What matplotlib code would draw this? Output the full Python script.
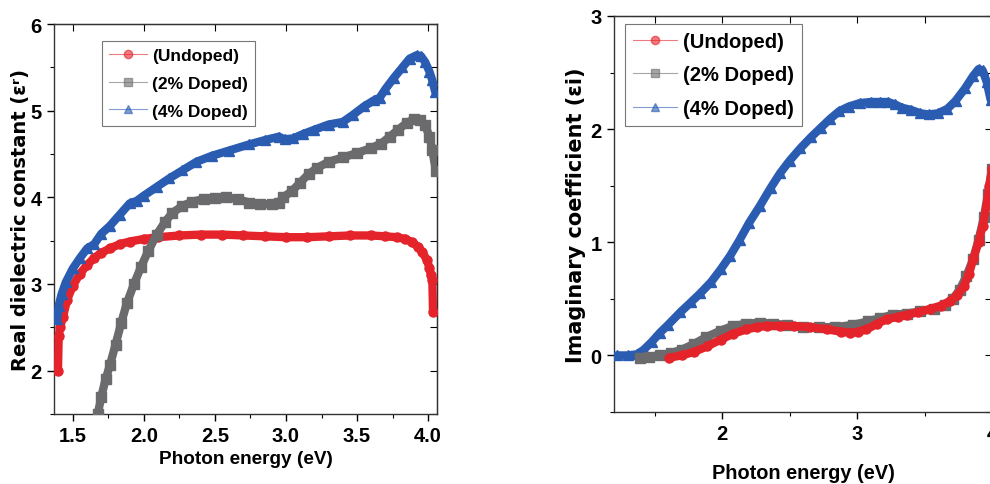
import matplotlib
matplotlib.use("Agg")
import matplotlib.pyplot as plt
from matplotlib.ticker import MultipleLocator
from matplotlib.lines import Line2D

# ---------------- data ----------------
labels = ["(Undoped)", "(2% Doped)", "(4% Doped)"]
colors = ["#e5232b", "#6b6b6d", "#2a5cb2"]
markers = ["o", "s", "^"]

# Left panel: real dielectric constant
er_undoped_x = [1.395, 1.40, 1.41, 1.43, 1.46, 1.50, 1.55, 1.60, 1.65, 1.70, 1.76, 1.83, 1.90,
                2.0, 2.1, 2.25, 2.4, 2.55, 2.7, 2.85, 3.0, 3.15, 3.3, 3.45, 3.6, 3.7, 3.78,
                3.84, 3.89, 3.93, 3.96, 3.99, 4.01, 4.02, 4.03, 4.035]
er_undoped_y = [2.0, 2.4, 2.5, 2.62, 2.82, 2.98, 3.12, 3.22, 3.30, 3.36, 3.41, 3.46, 3.49,
                3.52, 3.54, 3.56, 3.57, 3.57, 3.56, 3.55, 3.54, 3.54, 3.55, 3.56, 3.56, 3.55, 3.54,
                3.52, 3.48, 3.43, 3.37, 3.28, 3.19, 3.1, 3.05, 2.68]
er_2_x = [1.675, 1.70, 1.73, 1.76, 1.80, 1.84, 1.88, 1.93, 1.98, 2.03, 2.09, 2.15, 2.2, 2.27,
          2.34, 2.42, 2.5, 2.58, 2.66, 2.74, 2.82, 2.9, 2.95, 2.98, 3.04, 3.1, 3.16, 3.22,
          3.3, 3.4, 3.5, 3.6, 3.67, 3.73, 3.79, 3.85, 3.9, 3.94, 3.98, 4.01, 4.03, 4.055]
er_2_y = [1.5, 1.7, 1.9, 2.06, 2.3, 2.55, 2.78, 3.0, 3.2, 3.38, 3.57, 3.72, 3.82, 3.9,
          3.95, 3.98, 3.99, 4.0, 3.98, 3.94, 3.92, 3.92, 3.94, 4.0, 4.07, 4.17, 4.27, 4.34,
          4.41, 4.46, 4.51, 4.57, 4.62, 4.7, 4.78, 4.86, 4.9, 4.89, 4.83, 4.7, 4.55, 4.3]
er_4_x = [1.39, 1.40, 1.42, 1.45, 1.5, 1.55, 1.6, 1.65, 1.7, 1.76, 1.83, 1.9, 1.95, 2.0,
          2.09, 2.18, 2.27, 2.37, 2.48, 2.6, 2.74, 2.85, 2.95, 2.99, 3.05, 3.12, 3.2, 3.3,
          3.4, 3.47, 3.55, 3.62, 3.66, 3.7, 3.76, 3.82, 3.87, 3.92, 3.95, 3.98, 4.01, 4.03, 4.05]
er_4_y = [2.6, 2.75, 2.88, 3.02, 3.18, 3.3, 3.41, 3.46, 3.58, 3.67, 3.8, 3.93, 3.96, 4.02,
          4.12, 4.22, 4.31, 4.41, 4.48, 4.54, 4.61, 4.66, 4.7, 4.67, 4.68, 4.73, 4.78, 4.84,
          4.87, 4.95, 5.05, 5.12, 5.15, 5.25, 5.38, 5.5, 5.6, 5.64, 5.63, 5.56, 5.45, 5.35, 5.22]

# Right panel: imaginary coefficient
ei_undoped_x = [1.61, 1.7, 1.79, 1.89, 1.99, 2.08, 2.18, 2.26, 2.33, 2.43, 2.53, 2.65, 2.78,
                2.88, 2.95, 3.01, 3.07, 3.15, 3.22, 3.3, 3.37, 3.45, 3.54, 3.62, 3.69, 3.74,
                3.79, 3.83, 3.86, 3.9, 3.93, 3.96, 3.98, 4.0]
ei_undoped_y = [-0.02, 0.0, 0.03, 0.08, 0.14, 0.19, 0.23, 0.25, 0.26, 0.26, 0.26, 0.25, 0.23,
                0.21, 0.2, 0.21, 0.23, 0.28, 0.32, 0.34, 0.36, 0.38, 0.41, 0.44, 0.48, 0.53,
                0.61, 0.72, 0.85, 1.0, 1.14, 1.33, 1.5, 1.65]
ei_2_x = [1.39, 1.46, 1.54, 1.62, 1.7, 1.79, 1.88, 1.99, 2.08, 2.18, 2.28, 2.38, 2.48, 2.6,
          2.72, 2.84, 2.97, 3.08, 3.17, 3.27, 3.37, 3.47, 3.57, 3.65, 3.71, 3.76, 3.81,
          3.86, 3.9, 3.94, 3.97, 4.0]
ei_2_y = [-0.02, -0.01, 0.0, 0.02, 0.05, 0.1, 0.16, 0.22, 0.26, 0.28, 0.29, 0.28, 0.27, 0.25,
          0.25, 0.25, 0.27, 0.3, 0.33, 0.36, 0.37, 0.39, 0.41, 0.45, 0.5, 0.58, 0.7,
          0.85, 1.02, 1.22, 1.43, 1.65]
ei_4_x = [1.22, 1.3, 1.37, 1.42, 1.48, 1.54, 1.6, 1.69, 1.77, 1.84, 1.92, 1.99, 2.06, 2.13,
          2.2, 2.28, 2.36, 2.43, 2.5, 2.58, 2.66, 2.73, 2.8, 2.87, 2.94, 3.02, 3.1, 3.17,
          3.23, 3.28, 3.33, 3.4, 3.47, 3.53, 3.6, 3.67, 3.73, 3.8, 3.86, 3.9, 3.93, 3.96, 3.99]
ei_4_y = [0.0, 0.0, 0.01, 0.05, 0.12, 0.2, 0.27, 0.38, 0.47, 0.55, 0.65, 0.76, 0.88, 1.02,
          1.17, 1.32, 1.48, 1.61, 1.72, 1.83, 1.93, 2.01, 2.09, 2.16, 2.2, 2.23, 2.24, 2.24,
          2.24, 2.22, 2.19, 2.17, 2.14, 2.13, 2.14, 2.18, 2.25, 2.36, 2.47, 2.53, 2.52, 2.42, 2.26]

left_series = [(er_undoped_x, er_undoped_y), (er_2_x, er_2_y), (er_4_x, er_4_y)]
right_series = [(ei_undoped_x, ei_undoped_y), (ei_2_x, ei_2_y), (ei_4_x, ei_4_y)]
left_order = [0, 1, 2]
right_order = [2, 1, 0]

left_xticks = [1.5, 2.0, 2.5, 3.0, 3.5, 4.0]
left_yticks = [2, 3, 4, 5, 6]
right_xticks = [2, 3, 4]
right_yticks = [0, 1, 2, 3]

# ---------------- styling ----------------
TXT = ["Liberation Sans", "DejaVu Sans"]
LABEL_FONT = ["DejaVu Sans"]

fig = plt.figure(figsize=(9.9, 4.85), dpi=100)
axL = fig.add_axes([54 / 990, 70 / 485, 383 / 990, 390 / 485])
axR = fig.add_axes([614 / 990, 72 / 485, 378 / 990, 396 / 485])


def style_axes(ax, tick_size):
    for s in ax.spines.values():
        s.set_linewidth(1.0)
        s.set_color("#333333")
    ax.tick_params(which="both", direction="out", top=False, right=False,
                   labelsize=tick_size, pad=4)
    ax.tick_params(which="major", length=5, width=1)
    ax.tick_params(which="minor", length=3, width=0.8)
    for lab in ax.get_xticklabels() + ax.get_yticklabels():
        lab.set_family(TXT)
        lab.set_fontweight("bold")
    secx = ax.secondary_xaxis("top")
    secx.tick_params(which="both", direction="in", labeltop=False)
    secx.tick_params(which="major", length=5)
    secx.tick_params(which="minor", length=3)
    secx.set_xticklabels([])
    secy = ax.secondary_yaxis("right")
    secy.tick_params(which="both", direction="in", labelright=False)
    secy.tick_params(which="major", length=5)
    secy.tick_params(which="minor", length=3)
    secy.set_yticklabels([])


def draw(ax, series, order):
    for k, i in enumerate(order):
        x, y = series[i]
        ax.plot(x, y, color=colors[i], lw=6.0, solid_capstyle="round",
                solid_joinstyle="round", marker=markers[i], ms=6.5, mec=colors[i],
                mfc=colors[i], zorder=3 + k)


def legend(ax, anchor, fsize, spacing):
    handles = [Line2D([0], [0], color=colors[i], lw=0.8, alpha=0.6, marker=markers[i],
                      ms=6, mfc=colors[i], mec=colors[i]) for i in range(3)]
    leg = ax.legend(handles, labels, loc="upper left", bbox_to_anchor=anchor,
                    borderaxespad=0, frameon=True, fancybox=False,
                    handlelength=2.2, handletextpad=0.3, labelspacing=spacing,
                    borderpad=0.4,
                    prop={"family": TXT, "weight": "bold", "size": fsize})
    leg.get_frame().set_edgecolor("#555555")
    leg.get_frame().set_linewidth(0.8)
    leg.set_zorder(10)


# Left panel
draw(axL, left_series, left_order)
axL.set_xlim(1.367, 4.063)
axL.set_ylim(1.5, 6)
axL.set_xticks(left_xticks)
axL.set_xticklabels([f"{v:.1f}" for v in left_xticks])
axL.set_yticks(left_yticks)
axL.xaxis.set_minor_locator(MultipleLocator(0.25))
axL.yaxis.set_minor_locator(MultipleLocator(0.5))
style_axes(axL, 14.5)
axL.set_xlabel("Photon energy (eV)", family=TXT, fontweight="bold", fontsize=13.7, labelpad=3)
axL.set_ylabel("Real dielectric constant (εʳ)", family=LABEL_FONT, fontweight="bold",
               fontsize=14, labelpad=0)
legend(axL, (0.125, 0.956), 12.5, 0.72)

# Right panel
draw(axR, right_series, right_order)
axR.set_xlim(1.2, 4.0)
axR.set_ylim(-0.5, 3)
axR.set_xticks(right_xticks)
axR.set_yticks(right_yticks)
axR.xaxis.set_minor_locator(MultipleLocator(0.5))
axR.yaxis.set_minor_locator(MultipleLocator(0.5))
style_axes(axR, 14.5)
axR.set_xlabel("Photon energy (eV)", family=TXT, fontweight="bold", fontsize=14.4, labelpad=14)
axR.set_ylabel("Imaginary coefficient (εi)", family=LABEL_FONT, fontweight="bold",
               fontsize=15, labelpad=3)
legend(axR, (0.029, 0.98), 14.5, 0.72)

fig.savefig("out.png", dpi=100)
